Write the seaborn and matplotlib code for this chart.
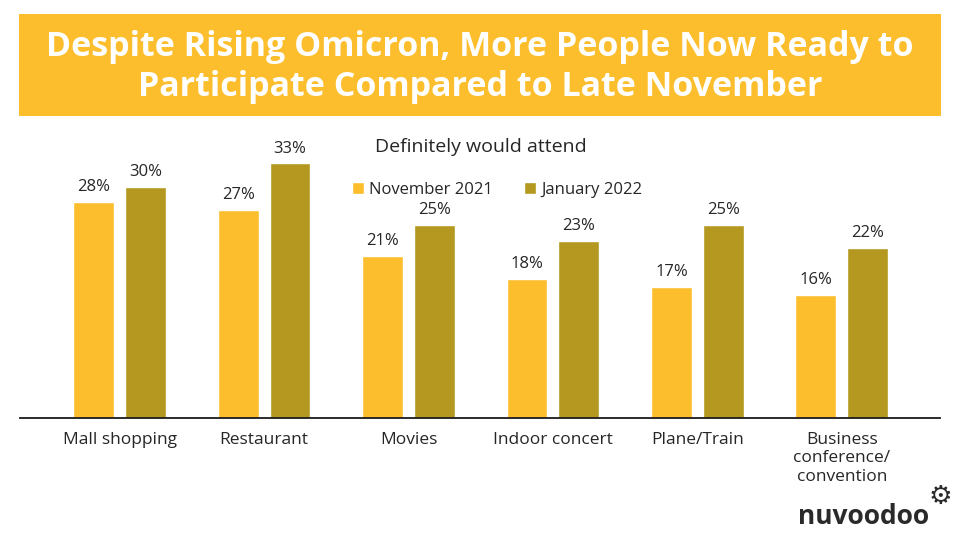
import seaborn as sns
import matplotlib.pyplot as plt
import pandas as pd
from matplotlib.patches import Rectangle

# Chart data
categories = ["Mall shopping", "Restaurant", "Movies", "Indoor concert",
              "Plane/Train", "Business\nconference/\nconvention"]
nov_2021 = [28, 27, 21, 18, 17, 16]
jan_2022 = [30, 33, 25, 23, 25, 22]
series_names = ["November 2021", "January 2022"]

title = "Despite Rising Omicron, More People Now Ready to\nParticipate Compared to Late November"
legend_title = "Definitely would attend"

# Long format for seaborn
df = pd.DataFrame({
    "category": categories * 2,
    "period": [series_names[0]] * len(categories) + [series_names[1]] * len(categories),
    "pct": nov_2021 + jan_2022,
})

sns.set_theme(style="white")
plt.rcParams["font.family"] = ["Open Sans", "DejaVu Sans"]
text_col = "#262626"
yellow = "#FCBE2C"
olive = "#B4981F"

fig = plt.figure(figsize=(9.6, 5.4), dpi=100)
ax = fig.add_axes([20 / 960, 122 / 540, 920 / 960, 290 / 540])

sns.barplot(data=df, x="category", y="pct", hue="period", order=categories,
            hue_order=series_names, palette=[yellow, olive], width=0.717, gap=0.21,
            saturation=1, ax=ax)

for cont in ax.containers:
    ax.bar_label(cont, fmt="{:.0f}%", padding=5, fontsize=12, color=text_col)

ax.set_xlim(-0.69, 5.68)
ax.set_ylim(0, 37.6)
ax.set_xlabel("")
ax.set_ylabel("")
ax.set_yticks([])
ax.tick_params(axis="x", length=0, pad=10, labelsize=12.5, labelcolor=text_col)
for s in ["top", "right", "left"]:
    ax.spines[s].set_visible(False)
ax.spines["bottom"].set_color("#1a1a1a")
ax.spines["bottom"].set_linewidth(1.3)

# Legend
handles, labels = ax.get_legend_handles_labels()
ax.legend(handles, labels, loc="center", bbox_to_anchor=(497 / 960, 1 - 190 / 540),
          bbox_transform=fig.transFigure, ncol=2, frameon=False, fontsize=12,
          handlelength=0.7, handleheight=0.7, handletextpad=0.3, columnspacing=1.9,
          labelcolor=text_col)
fig.text(481 / 960, 1 - 147 / 540, legend_title, ha="center", va="center",
         fontsize=14, color=text_col)

# Title banner
fig.patches.append(Rectangle((19 / 960, 1 - 116 / 540), 922 / 960, 102 / 540,
                             transform=fig.transFigure, facecolor=yellow,
                             edgecolor="none", zorder=0))
fig.text(480 / 960, 1 - 67 / 540, title, ha="center", va="center", fontsize=24.5,
         fontweight="bold", color="white", linespacing=1.22)

# Logo
fig.text(864 / 960, 1 - 516 / 540, "nuvoodoo", ha="center", va="center",
         fontsize=19, fontweight="bold", color="#2a2a2a")
fig.text(940 / 960, 1 - 497 / 540, "\u2699", ha="center", va="center",
         fontsize=19, color="#2a2a2a", family="DejaVu Sans")

fig.savefig("out.png", dpi=100)
